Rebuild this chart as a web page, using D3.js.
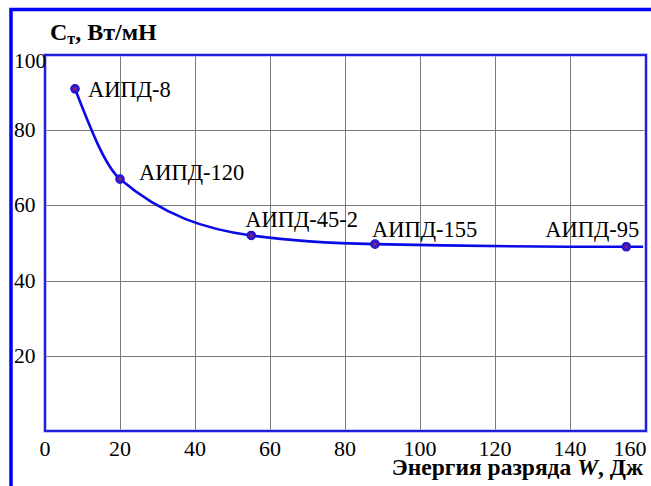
<!DOCTYPE html>
<html><head><meta charset="utf-8">
<script src="https://cdn.jsdelivr.net/npm/d3@7"></script>
<style>
html,body{margin:0;padding:0;background:#fff;}
svg{display:block;}
</style></head>
<body>
<svg id="chart" width="651" height="486"></svg>
<script>
// Data
const deviceNames = ["АИПД-8","АИПД-120","АИПД-45-2","АИПД-155","АИПД-95"];
const energyValues = [8, 20, 55, 88, 155];
const specificPower = [91, 67, 52, 49.7, 49];
// curve continues to right edge at the asymptotic level
const curveEndEnergy = [159.5];
const curveEndPower = [49];
const xTicks = [0,20,40,60,80,100,120,140,160];
const yTicks = [20,40,60,80,100];
const xTitle = "Энергия разряда ";
const xTitleVar = "W";
const xTitleUnit = ", Дж";
const yTitleMain = "C";
const yTitleSub = "т";
const yTitleUnit = ", Вт/мН";

const FONT = "Liberation Serif";
const svg = d3.select("#chart").attr("font-family", FONT);
const L = 45, R = 645, T = 55, B = 431;
const x = d3.scaleLinear().domain([0,160]).range([L,R]);
const y = d3.scaleLinear().domain([0,100]).range([B,T]);

// outer blue border (left and top)
svg.append("path")
  .attr("d", `M11,486 L11,9.5 L651,9.5`)
  .attr("fill","none").attr("stroke","#0000ff").attr("stroke-width",3.5);

// grid
const grid = svg.append("g").attr("stroke","#7a7a7a").attr("stroke-width",1);
xTicks.filter(t => t>0 && t<160).forEach(t => {
  grid.append("line").attr("x1",Math.round(x(t))+0.5).attr("x2",Math.round(x(t))+0.5).attr("y1",T).attr("y2",B);
});
yTicks.filter(t => t<100).forEach(t => {
  grid.append("line").attr("y1",Math.round(y(t))+0.5).attr("y2",Math.round(y(t))+0.5).attr("x1",L).attr("x2",R);
});

// frame
svg.append("rect").attr("x",L).attr("y",T).attr("width",R+1-L).attr("height",B-T)
  .attr("fill","none").attr("stroke","#9999ff").attr("stroke-width",3.2);
svg.append("rect").attr("x",L).attr("y",T).attr("width",R+1-L).attr("height",B-T)
  .attr("fill","none").attr("stroke","#1414d8").attr("stroke-width",1.8);

// x tick labels
svg.append("g").selectAll("text").data(xTicks).join("text")
  .attr("x", d => Math.min(x(d), 630))
  .attr("y", 456)
  .attr("text-anchor","middle")
  .attr("font-family", FONT)
  .attr("font-size",22)
  .attr("fill","#000")
  .text(d => d);

// y tick labels
svg.append("g").selectAll("text").data(yTicks).join("text")
  .attr("x", 14)
  .attr("y", d => Math.max(y(d), T+6) + 7)
  .attr("text-anchor","start")
  .attr("font-family", FONT)
  .attr("font-size",21.5)
  .attr("fill","#000")
  .text(d => d);

// x title
const xt = svg.append("text").attr("x",643).attr("y",475).attr("text-anchor","end")
  .attr("font-family", FONT)
  .attr("font-size",23.5).attr("font-weight","bold").attr("fill","#000");
xt.append("tspan").text(xTitle);
xt.append("tspan").attr("font-style","italic").text(xTitleVar);
xt.append("tspan").text(xTitleUnit);

// y title
const yt = svg.append("text").attr("x",50).attr("y",40)
  .attr("font-family", FONT)
  .attr("font-size",24).attr("font-weight","bold").attr("fill","#000");
yt.append("tspan").text(yTitleMain);
yt.append("tspan").attr("font-size",16).attr("dy",4).text(yTitleSub);
yt.append("tspan").attr("dy",-4).text(yTitleUnit);

// curve
const pts = energyValues.map((e,i)=>[e, specificPower[i]])
  .concat(curveEndEnergy.map((e,i)=>[e, curveEndPower[i]]));
const line = d3.line().x(d=>x(d[0])).y(d=>y(d[1])).curve(d3.curveMonotoneX);
svg.append("path").attr("d", line(pts)).attr("fill","none")
  .attr("stroke","#0a0ae6").attr("stroke-width",2.6);

// markers
svg.append("g").selectAll("circle").data(energyValues).join("circle")
  .attr("cx",(d)=>x(d)).attr("cy",(d,i)=>y(specificPower[i])).attr("r",4.2)
  .attr("fill","#3a1ab8").attr("stroke","#1212e0").attr("stroke-width",1.2);
svg.append("g").selectAll("circle").data(energyValues).join("circle")
  .attr("cx",(d)=>x(d)).attr("cy",(d,i)=>y(specificPower[i])).attr("r",1.3)
  .attr("fill","#b0206a");

// labels
const labelOffsets = [[13,8,"start"],[19,1,"start"],[-6,-8,"start"],[-3,-7,"start"],[13,-10,"end"]];
svg.append("g").selectAll("text").data(deviceNames).join("text")
  .attr("x",(d,i)=>x(energyValues[i])+labelOffsets[i][0])
  .attr("y",(d,i)=>y(specificPower[i])+labelOffsets[i][1])
  .attr("text-anchor",(d,i)=>labelOffsets[i][2])
  .attr("font-family", FONT)
  .attr("font-size",22.5).attr("fill","#000")
  .text(d=>d);
</script>
</body></html>
